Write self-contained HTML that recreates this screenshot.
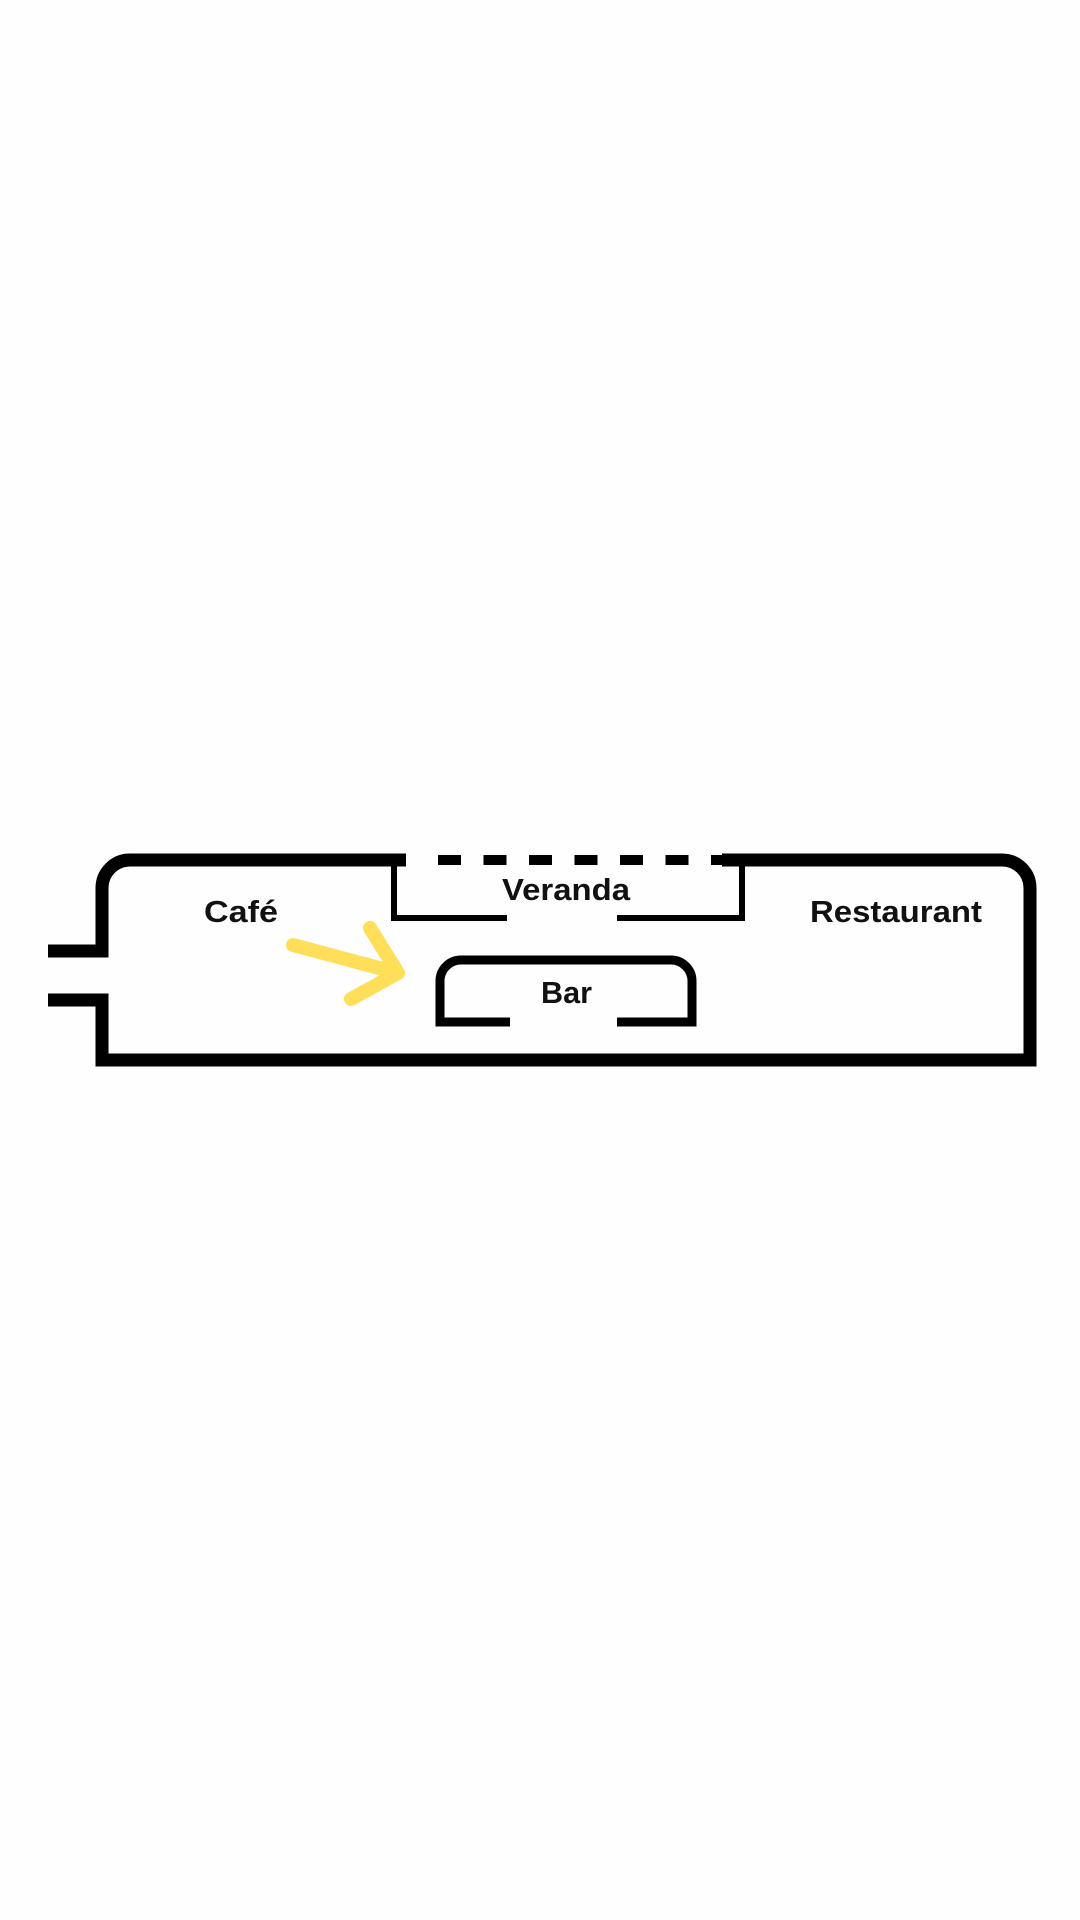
<!DOCTYPE html>
<html><head><meta charset="utf-8"><style>
html,body{margin:0;padding:0;background:#fff;}
svg{display:block}
text{font-family:"Liberation Sans","DejaVu Sans",sans-serif;font-weight:bold;font-size:31px;fill:#111}
</style></head><body>
<svg width="1080" height="1920" viewBox="0 0 1080 1920" xmlns="http://www.w3.org/2000/svg">
<rect width="1080" height="1920" fill="#fefefe"/>
<g fill="none" stroke="#000">
  <path d="M48 951 H102 V888 A28 28 0 0 1 130 860 H406" stroke-width="13"/>
  <path d="M48 1000 H102 V1060 H1030 V888 A28 28 0 0 0 1002 860 H722" stroke-width="13"/>
  <path d="M438 860 H734" stroke-width="10" stroke-dasharray="23 22.5"/>
  <path d="M394 863 V918 H507" stroke-width="6"/>
  <path d="M617 918 H742 V863" stroke-width="6"/>
  <path d="M510 1022 H440 V981 A21 21 0 0 1 461 960 H671 A21 21 0 0 1 692 981 V1022 H617" stroke-width="9"/>
</g>
<g fill="none" stroke="#FFDE59" stroke-width="14" stroke-linecap="round" stroke-linejoin="round">
  <path d="M293 945 L398 973"/>
  <path d="M370 928 L398 973 L351 999"/>
</g>
<text x="204" y="922" textLength="74" lengthAdjust="spacingAndGlyphs">Café</text>
<text x="502" y="900" textLength="128" lengthAdjust="spacingAndGlyphs">Veranda</text>
<text x="541" y="1003" textLength="51" lengthAdjust="spacingAndGlyphs">Bar</text>
<text x="810" y="922" textLength="172" lengthAdjust="spacingAndGlyphs">Restaurant</text>
</svg>
</body></html>
